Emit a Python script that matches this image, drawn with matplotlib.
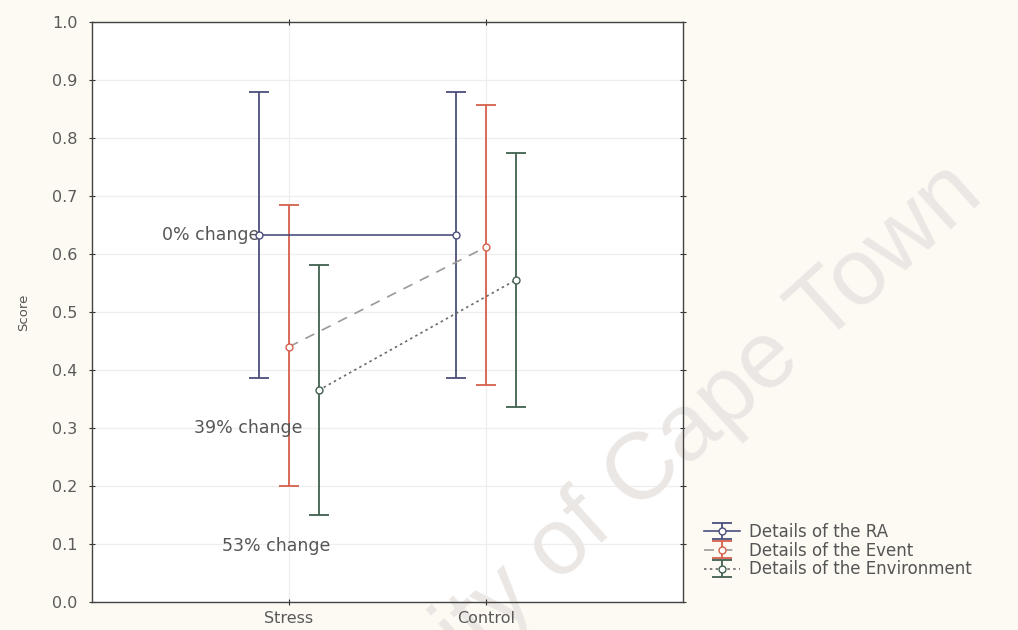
import numpy as np
import matplotlib.pyplot as plt

# group means and confidence limits
groups = ['Stress', 'Control']
series = ['Details of the RA', 'Details of the Event', 'Details of the Environment']

ra_mean = [0.633, 0.633]
ra_lo = [0.386, 0.386]
ra_hi = [0.879, 0.879]

event_mean = [0.44, 0.612]
event_lo = [0.20, 0.374]
event_hi = [0.684, 0.857]

env_mean = [0.365, 0.555]
env_lo = [0.15, 0.336]
env_hi = [0.581, 0.774]

notes = ['0% change', '39% change', '53% change']

plt.rcParams['font.family'] = ['DejaVu Sans']

fig = plt.figure(figsize=(10.18, 6.30), dpi=100)
fig.patch.set_facecolor('#fdf9f3')
ax = fig.add_axes([92/1018, 28/630, 591/1018, 580/630])
ax.set_facecolor('#ffffff')

xpos = np.arange(1, len(groups)+1)
offsets = [-0.15, 0.0, 0.15]
colors = ['#4b4f7c', '#d6604c', '#41604f']
line_colors = ['#4b4f7c', '#9e9896', '#6a6a6a']
styles = ['-', (0, (6, 5)), (0, (1.5, 2))]
data = [(ra_mean, ra_lo, ra_hi), (event_mean, event_lo, event_hi), (env_mean, env_lo, env_hi)]

for i in range(3):
    m, lo, hi = [np.array(v) for v in data[i]]
    err = [m - lo, hi - m]
    eb = ax.errorbar(xpos + offsets[i], m, yerr=err, color=colors[i], ls=styles[i], lw=1.2,
                     elinewidth=1.3, capsize=7, capthick=1.3, marker='o', ms=5,
                     mfc='white', mec=colors[i], label=series[i], zorder=3)
    eb.lines[0].set_color(line_colors[i])
    eb.lines[0].set_markeredgecolor(colors[i])

ax.set_xlim(0, 3)
ax.set_ylim(0, 1.0)
ax.set_xticks(xpos)
ax.set_xticklabels(groups, fontsize=11.5, color='#5a5a5a')
ax.set_yticks(np.arange(0, 1.01, 0.1))
ax.set_yticklabels(['%.1f' % v for v in np.arange(0, 1.01, 0.1)], fontsize=11.5, color='#5a5a5a')
ax.tick_params(direction='inout', length=5, width=0.8, color='#333333', pad=8,
               top=True, right=True)
ax.tick_params(axis='x', pad=4)
ax.grid(True, color='#eeeeee', lw=0.9)
ax.set_axisbelow(True)
ax.xaxis.set_zorder(2)  # x labels sit on top of the watermark
for s in ax.spines.values():
    s.set_color('#444444')
    s.set_linewidth(1.0)
ax.set_ylabel('Score', fontsize=9.5, color='#555555', labelpad=16)

# change annotations
ax.text(0.85, ra_mean[0], notes[0], ha='right', va='center', fontsize=12.5, color='#555555')
ax.text(1.07, 0.30, notes[1], ha='right', va='center', fontsize=12.5, color='#555555')
ax.text(0.66, 0.097, notes[2], ha='left', va='center', fontsize=12.5, color='#555555')

fig.legend(loc='lower left', bbox_to_anchor=(692/1018, 40/630), frameon=False,
           fontsize=12, labelspacing=0.05, handlelength=2.2, handletextpad=0.5,
           labelcolor='#555555', borderpad=0.2)

# watermark
ax.text(986/1018, 1-198/630, 'University of Cape Town', transform=fig.transFigure,
        rotation=42, rotation_mode='anchor', ha='right', va='baseline', fontsize=68,
        color='#ebe7e4', zorder=1, clip_on=False, family='Liberation Sans')

fig.savefig('out.png', dpi=100, facecolor=fig.get_facecolor())
